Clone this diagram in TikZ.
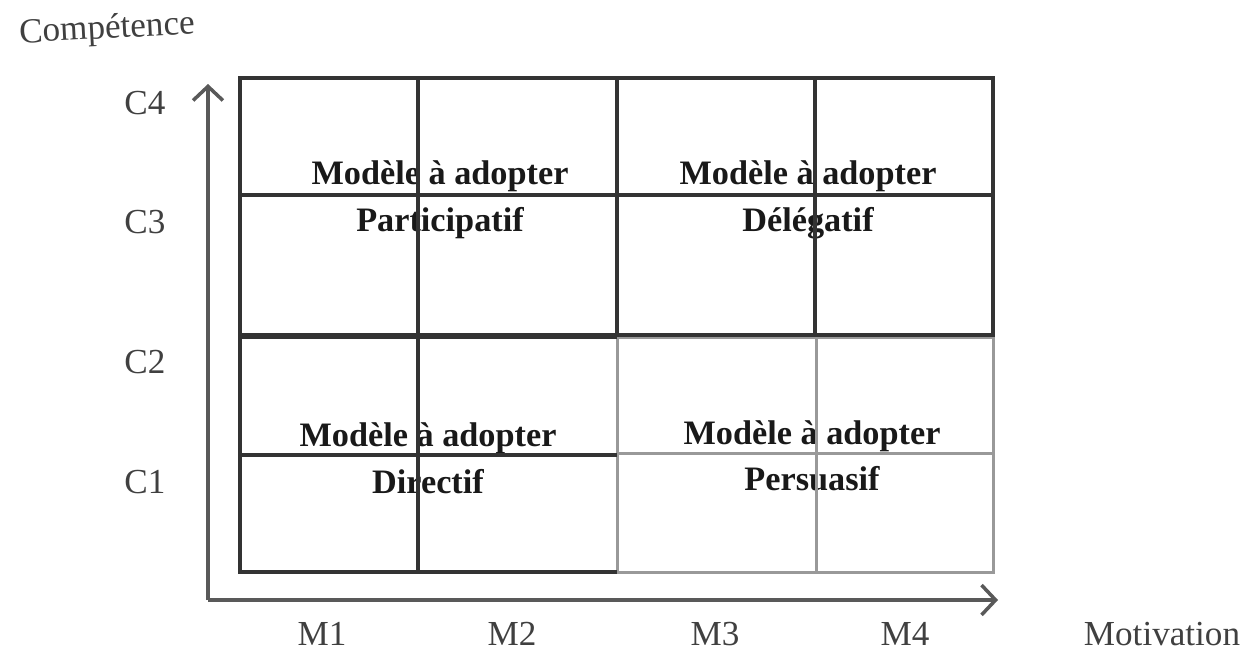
\documentclass[tikz,border=0pt]{standalone}
\usepackage{fontspec}
\setmainfont{Liberation Serif}
\usetikzlibrary{arrows.meta}

\tikzset{
  darkline/.style={draw=black!80, line width=2pt},
  paleline/.style={draw=black!40, line width=1.7pt},
  axis/.style={draw=black!65, line width=2pt, ->},
  lbl/.style={font=\fontsize{20}{24}\selectfont, text=black!75},
  model/.style={font=\fontsize{19.5}{26.5}\selectfont\bfseries, text=black!90, align=center},
  >={Straight Barb[length=8pt,width=17pt]}
}

\begin{document}
\begin{tikzpicture}[x=0.02cm, y=-0.02cm]
\useasboundingbox (0,0) rectangle (1247,653);

% labels of the axes
\node[lbl, rotate=3] (comp) at (107,30) {Compétence};
\node[lbl] (motiv) at (1162,634) {Motivation};
\node[lbl] (c4) at (145,103) {C4}; \node[lbl] (c3) at (145,222) {C3};
\node[lbl] (c2) at (145,362) {C2}; \node[lbl] (c1) at (145,482) {C1};
\node[lbl] (m1) at (322,634) {M1}; \node[lbl] (m2) at (512,634) {M2};
\node[lbl] (m3) at (715,634) {M3}; \node[lbl] (m4) at (905,634) {M4};

% texts of the four models
\node[model] (part) at (440,200) {Modèle à adopter\\Participatif};
\node[model] (dele) at (808,200) {Modèle à adopter\\Délégatif};
\node[model] (dire) at (428,458) {Modèle à adopter\\Directif};
\node[model] (pers) at (812,456) {Modèle à adopter\\Persuasif};

% grid
\draw[paleline] (617,337) rectangle (993,572);
\draw[paleline] (617,453) -- (993,453) (816,337) -- (816,572);
\draw[darkline] (240,78) rectangle (617,335);
\draw[darkline] (240,195) -- (617,195) (418,78) -- (418,335);
\draw[darkline] (617,78) rectangle (993,335);
\draw[darkline] (617,195) -- (993,195) (815,78) -- (815,335);
\draw[darkline] (617,572) -- (240,572) -- (240,337) -- (617,337);
\draw[darkline] (240,455) -- (617,455) (418,337) -- (418,572);

% axes
\coordinate (o) at (208,600);
\coordinate (ytip) at (208,84);
\coordinate (xtip) at (998,600);
\draw[axis] (o) -- (ytip);
\draw[axis] (o) -- (xtip);
\end{tikzpicture}
\end{document}
